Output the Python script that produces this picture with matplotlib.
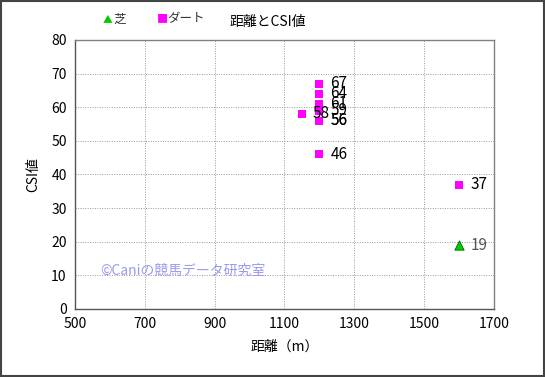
import matplotlib.pyplot as plt
from matplotlib.patches import Rectangle

plt.rcParams["font.family"] = ["Noto Sans CJK JP", "DejaVu Sans"]

# dirt (ダート) points
dirt_dist = [1150, 1200, 1200, 1200, 1200, 1200, 1200, 1200, 1600]
dirt_csi = [58, 67, 64, 61, 59, 56, 56, 46, 37]
# turf (芝) points
turf_dist = [1600]
turf_csi = [19]

x_ticks = [500, 700, 900, 1100, 1300, 1500, 1700]
y_ticks = [0, 10, 20, 30, 40, 50, 60, 70, 80]

fig = plt.figure(figsize=(5.45, 3.77), dpi=100)
ax = fig.add_axes([0.1376, 0.1804, 0.7688, 0.7136])

ax.scatter(dirt_dist, dirt_csi, marker="s", s=40, color="#ff00ff", linewidths=0, zorder=3)
ax.scatter(turf_dist, turf_csi, marker="^", s=45, color="#00cc00", edgecolors="#006600",
           linewidths=0.6, zorder=3)

for x, y in zip(dirt_dist, dirt_csi):
    ax.annotate(str(y), (x, y), xytext=(8, 0), textcoords="offset points",
                va="center", ha="left", fontsize=11, color="black", zorder=4)
for x, y in zip(turf_dist, turf_csi):
    ax.annotate(str(y), (x, y), xytext=(8, 0), textcoords="offset points",
                va="center", ha="left", fontsize=11, color="#555555", zorder=4)

ax.set_xlim(500, 1700)
ax.set_ylim(0, 80)
ax.set_xticks(x_ticks)
ax.set_yticks(y_ticks)
ax.tick_params(axis="both", length=0, labelsize=10, pad=6)
ax.grid(True, color="#999999", linestyle=(0, (1, 1.5)), linewidth=0.7)
for side in ax.spines.values():
    side.set_color("#808080")
    side.set_linewidth(1.0)
ax.spines["bottom"].set_color("#555555")
ax.spines["left"].set_color("#555555")

ax.set_xlabel("距離（m）", fontsize=10, labelpad=6)
ax.set_ylabel("CSI値", fontsize=10, labelpad=8)

ax.text(0.06, 0.141, "©Caniの競馬データ研究室", transform=ax.transAxes,
        fontsize=10, color="#9999ee", va="center", ha="left")

fig.text(268 / 545, 1 - 22 / 377, "距離とCSI値", fontsize=10, ha="center", va="center")
fig.text(103 / 545, 1 - 19 / 377, "▲", fontsize=7, color="#00cc00", ha="left", va="center")
fig.text(113 / 545, 1 - 19 / 377, "芝", fontsize=9, color="#333333", ha="left", va="center")
fig.text(157 / 545, 1 - 19 / 377, "■", fontsize=8, color="#ff00ff", ha="left", va="center")
fig.text(167 / 545, 1 - 19 / 377, "ダート", fontsize=9, color="#333333", ha="left", va="center")

fig.patches.append(Rectangle((0.002, 0.003), 0.996, 0.994, transform=fig.transFigure,
                             fill=False, edgecolor="#444444", linewidth=1.5))

fig.savefig("out.png", dpi=100)
